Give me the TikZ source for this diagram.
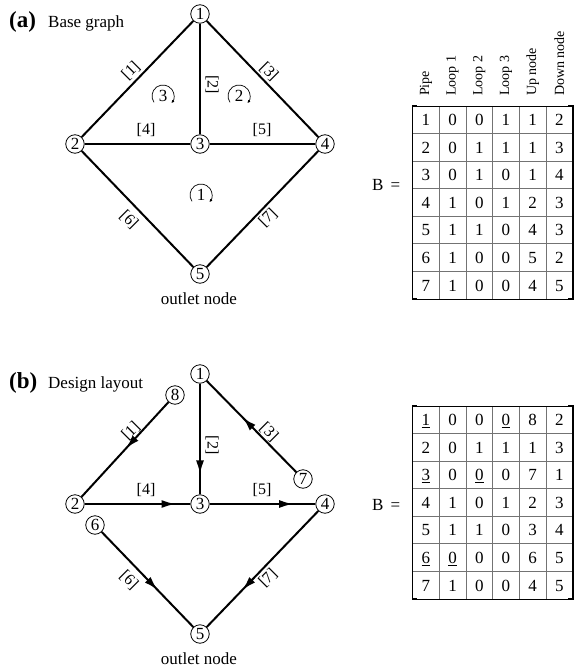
\documentclass[tikz,border=0pt]{standalone}
\usepackage{fontspec}
\setmainfont{Liberation Serif}
\usetikzlibrary{arrows.meta,decorations.markings}
\newcommand\bodyfs{\fontsize{17}{20}\selectfont}
\newcommand\ulv[1]{\underline{#1}}

\begin{document}
\begin{tikzpicture}[x=1pt,y=1pt]
  \tikzset{
    jn/.style={circle,draw=black,line width=0.8pt,fill=white,minimum size=18.5pt,inner sep=0pt,font=\bodyfs},
    pipe/.style={draw=black,line width=2pt},
    plab/.style={font=\fontsize{16}{18}\selectfont,inner sep=0pt},
    flowat/.style={postaction={decorate},decoration={markings,mark=at position #1 with {\arrow{Latex[length=14pt,width=8pt]}}}},
    cell/.style={font=\bodyfs,inner sep=0pt,anchor=base},
    hd/.style={font=\fontsize{14}{16}\selectfont,rotate=90,anchor=west,inner sep=0pt},
    tline/.style={draw=black!55,line width=0.8pt},
    frame/.style={draw=black,line width=1pt},
    brk/.style={draw=black,line width=1.8pt},
    lp/.style={line width=0.7pt,-{Latex[length=3pt,width=3pt]}},
  }
  \useasboundingbox (0,0) rectangle (574,-669);

  % common parts of (a) and (b)
  \foreach \sy/\pn/\ttl in {0/a/Base graph,-360/b/Design layout} {
    \begin{scope}[shift={(0,\sy)}]
      \node[font=\bfseries\fontsize{23}{26}\selectfont,anchor=base west,inner sep=0pt] (\pn-tag) at (9,-28) {(\pn)};
      \node[font=\bodyfs,anchor=base west,inner sep=0pt] (\pn-ttl) at (48,-28) {\ttl};
      \node[jn] (\pn1) at (200,-14) {1};
      \node[jn] (\pn2) at (75,-144) {2};
      \node[jn] (\pn3) at (200,-144) {3};
      \node[jn] (\pn4) at (325,-144) {4};
      \node[jn] (\pn5) at (200,-274) {5};
      \node[font=\bodyfs,anchor=base,inner sep=0pt] (\pn-out) at (199,-304) {outlet node};
      \node[plab,rotate=45] at (131,-71) {[1]};
      \node[plab,rotate=-90] at (212,-85) {[2]};
      \node[plab,rotate=-45] at (269,-72) {[3]};
      \node[plab] at (146,-130) {[4]};
      \node[plab] at (262,-130) {[5]};
      \node[plab,rotate=-45] at (129,-220) {[6]};
      \node[plab,rotate=45] at (268,-218) {[7]};
    \end{scope}
  }

  % (a) base graph
  \draw[pipe] (a1) -- (a2);
  \draw[pipe] (a1) -- (a3);
  \draw[pipe] (a1) -- (a4);
  \draw[pipe] (a2) -- (a3);
  \draw[pipe] (a3) -- (a4);
  \draw[pipe] (a2) -- (a5);
  \draw[pipe] (a4) -- (a5);
  \foreach \lx/\ly/\lab in {163/-96/3,239/-96/2,201/-195/1} {
    \node[font=\bodyfs,inner sep=0pt] (loop\lab) at (\lx,\ly) {\lab};
    \draw[lp] (loop\lab.center) ++(215:11) arc[start angle=215,end angle=-40,radius=11];
  }

  % (b) design layout
  \node[jn] (b6) at (95,-525) {6};
  \node[jn] (b7) at (303,-479) {7};
  \node[jn] (b8) at (175,-395) {8};
  \draw[pipe,flowat=0.49] (b8) -- (b2);
  \draw[pipe,flowat=0.82] (b1) -- (b3);
  \draw[pipe,flowat=0.6] (b7) -- (b1);
  \draw[pipe,flowat=0.86] (b2) -- (b3);
  \draw[pipe,flowat=0.79] (b3) -- (b4);
  \draw[pipe,flowat=0.61] (b6) -- (b5);
  \draw[pipe,flowat=0.68] (b4) -- (b5);

  % matrices
  \foreach \h [count=\c] in {Pipe,Loop 1,Loop 2,Loop 3,Up node,Down node}
    \node[hd] (hd\c) at ({412.5+26.7*(\c-0.5)},-96) {\h};
  \node[font=\bodyfs,anchor=west,inner sep=0pt] (Ba) at (372,-185) {B \,=};
  \node[font=\bodyfs,anchor=west,inner sep=0pt] (Bb) at (372,-505) {B \,=};
  \foreach \rowvals [count=\r] in {{1,0,0,1,1,2},{2,0,1,1,1,3},{3,0,1,0,1,4},{4,1,0,1,2,3},{5,1,1,0,4,3},{6,1,0,0,5,2},{7,1,0,0,4,5}}
    \foreach \v [count=\c] in \rowvals
      \node[cell] (ta-\r-\c) at ({412.5+26.7*(\c-0.5)},{-106-27.57*(\r-0.5)-5.8}) {\v};
  \foreach \rowvals [count=\r] in {{\ulv{1},0,0,\ulv{0},8,2},{2,0,1,1,1,3},{\ulv{3},0,\ulv{0},0,7,1},{4,1,0,1,2,3},{5,1,1,0,3,4},{\ulv{6},\ulv{0},0,0,6,5},{7,1,0,0,4,5}}
    \foreach \v [count=\c] in \rowvals
      \node[cell] (tb-\r-\c) at ({412.5+26.7*(\c-0.5)},{-406-27.57*(\r-0.5)-5.8}) {\v};
  \foreach \ty in {-106,-406} {
    \foreach \c in {1,...,5}
      \draw[tline] ({412.5+26.7*\c},\ty) -- ({412.5+26.7*\c},{\ty-193});
    \foreach \r in {1,...,6}
      \draw[tline] (412.5,{\ty-27.57*\r}) -- (572.7,{\ty-27.57*\r});
    \draw[frame] (412.5,\ty) rectangle (572.7,{\ty-193});
    \draw[brk] (417,\ty) -- (412.5,\ty) -- (412.5,{\ty-193}) -- (417,{\ty-193});
    \draw[brk] (568.2,\ty) -- (572.7,\ty) -- (572.7,{\ty-193}) -- (568.2,{\ty-193});
  }
\end{tikzpicture}
\end{document}
